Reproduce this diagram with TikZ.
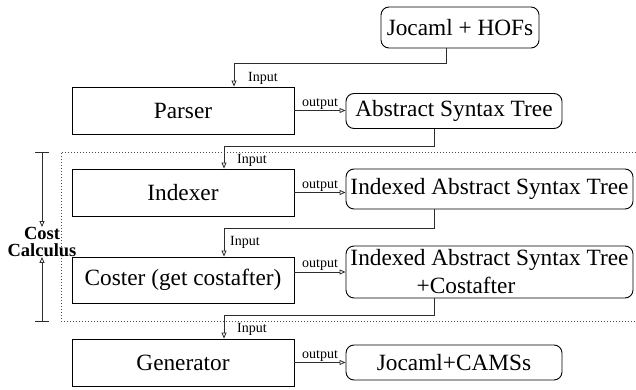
\documentclass[tikz,border=0pt]{standalone}
\usepackage{fontspec}
\setmainfont{Liberation Serif}
\usepackage{xcolor}
\definecolor{Ln}{RGB}{45,45,45}
\usepackage{tikz}
\usetikzlibrary{arrows.meta}
\tikzstyle{Proc}=[draw,line width=0.9pt,minimum width=222pt,minimum height=47pt,
inner sep=0pt,font=\fontsize{23.3}{28}\selectfont]
\tikzstyle{Data}=[Proc,rounded corners=8pt,align=center]
\tikzstyle{Edge}=[draw=Ln,line width=0.8pt]
\tikzstyle{Flow}=[Edge,-{Triangle[open,length=6pt,width=5pt]}]
\tikzstyle{Tag}=[inner sep=1pt,font=\fontsize{14}{16}\selectfont]
\tikzstyle{Zone}=[draw=black!70,line width=0.9pt,dash pattern=on 0.9pt off 2.1pt]

\begin{document}
\begin{tikzpicture}[x=1pt,y=-1pt]
        \useasboundingbox(0,0)rectangle(636,390);
        \node[Data,minimum width=158pt,minimum height=41pt](hofs)at(460,27.5)
            {Jocaml + HOFs};
        \node[Proc](parser)at(183,110.5){Parser};
        \node[Data,minimum width=216pt,minimum height=35pt](ast)at(454,111)
            {Abstract Syntax Tree};
        \node[Proc](indexer)at(183,192.5){Indexer};
        \node[Data,minimum width=287pt,minimum height=40pt](iast)at(489.5,189)
            {Indexed Abstract Syntax Tree};
        \node[Proc,minimum height=46pt](coster)at(183,280)
            {Coster (get costafter)};
        \node[Data,minimum width=287pt,minimum height=52pt](ciast)at(489.5,272)
            {Indexed Abstract Syntax Tree\\+Costafter\hspace*{47pt}};
        \node[Proc](generator)at(183,362.5){Generator};
        \node[Data,minimum width=216pt,minimum height=35pt](camss)at(454,362.5)
            {Jocaml+CAMSs};
        \draw[Flow]([xshift=-14pt]hofs.south)--++(0,15)
            -|([xshift=51pt]parser.north);
        \draw[Flow]([xshift=-20pt]ast.south)--++(0,17.5)
            -|([xshift=41pt]indexer.north);
        \draw[Flow]([xshift=-55.5pt]iast.south)--++(0,19)
            -|([xshift=41pt]coster.north);
        \draw[Flow]([xshift=-55.5pt]ciast.south)--++(0,17)
            -|([xshift=41pt]generator.north);
        \node[Tag,anchor=west](in1)at(247,78){Input};
        \node[Tag,anchor=west](in2)at(236,160){Input};
        \node[Tag,anchor=west](in3)at(229,242){Input};
        \node[Tag,anchor=west](in4)at(236,329){Input};
        \draw[Flow](parser.east)--(parser.east-|ast.west)
            node[Tag,midway,above](out1){output};
        \draw[Flow](indexer.east)--(indexer.east-|iast.west)
            node[Tag,midway,above](out2){output};
        \draw[Flow](ciast.west-|coster.east)--(ciast.west)
            node[Tag,midway,above](out3){output};
        \draw[Flow](generator.east)--(generator.east-|camss.west)
            node[Tag,midway,above](out4){output};
        \draw[Zone](636,152)--(61,152)--(61,321)--(636,321);
        \coordinate(ctop)at(42,152);
        \coordinate(cbot)at(42,321);
        \node[inner sep=0pt,align=center,font=\fontsize{18.5}{17}\selectfont\bfseries]
            (cost)at(42,242){Cost\\Calculus};
        \draw[Edge]([xshift=-7pt]ctop)--([xshift=7pt]ctop);
        \draw[Edge]([xshift=-7pt]cbot)--([xshift=7pt]cbot);
        \draw[Flow](ctop)--(cost.north);
        \draw[Flow](cbot)--(cost.south);
    \end{tikzpicture}
\end{document}
